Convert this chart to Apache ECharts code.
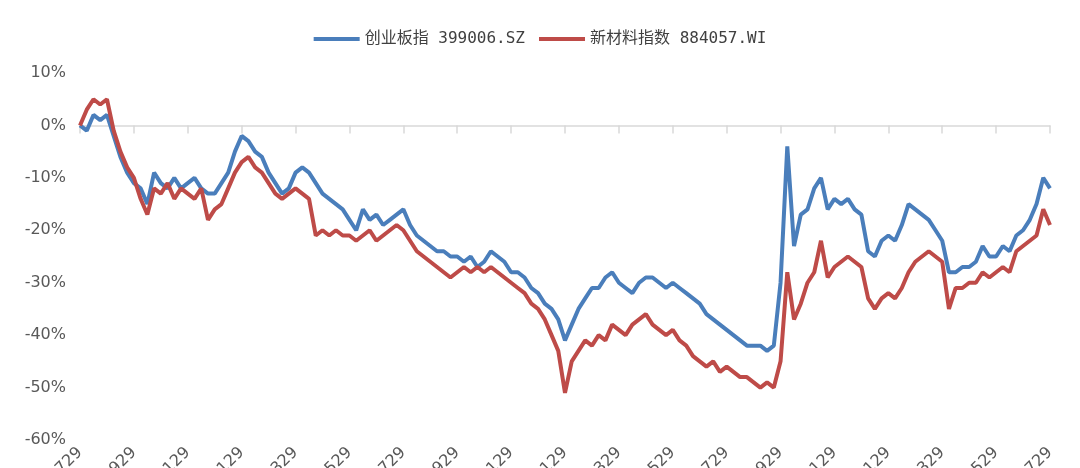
<!DOCTYPE html>
<html><head><meta charset="utf-8">
<script src="https://cdn.jsdelivr.net/npm/echarts@6/dist/echarts.min.js"></script>
<style>html,body{margin:0;padding:0;background:#fff}#c{width:1080px;height:468px}</style>
</head><body><div id="c"></div>
<script>
const seriesNames = ['创业板指 399006.SZ', '新材料指数 884057.WI'];
const dayMarks = ['29', '07', '14', '21'];
// categories: quarter-month steps from 220729 to 250729
const categories = [];
{
  let y = 22, m = 7;
  for (let i = 0; i < 145; i++) {
    const k = i % 4;
    if (k === 0) {
      categories.push(String(y).padStart(2,'0') + String(m).padStart(2,'0') + '29');
    } else {
      let mm = m + 1, yy = y; if (mm > 12) { mm = 1; yy++; }
      categories.push(String(yy).padStart(2,'0') + String(mm).padStart(2,'0') + dayMarks[k]);
      if (k === 3) { m = mm; y = yy; }
    }
  }
}
const chinextValues = [
0,-1,2,1,2,-2,-6,-9,-11,-12,
-15,-9,-11,-12,-10,-12,-11,-10,-12,-13,
-13,-11,-9,-5,-2,-3,-5,-6,-9,-11,
-13,-12,-9,-8,-9,-11,-13,-14,-15,-16,
-18,-20,-16,-18,-17,-19,-18,-17,-16,-19,
-21,-22,-23,-24,-24,-25,-25,-26,-25,-27,
-26,-24,-25,-26,-28,-28,-29,-31,-32,-34,
-35,-37,-41,-38,-35,-33,-31,-31,-29,-28,
-30,-31,-32,-30,-29,-29,-30,-31,-30,-31,
-32,-33,-34,-36,-37,-38,-39,-40,-41,-42,
-42,-42,-43,-42,-30,-4,-23,-17,-16,-12,
-10,-16,-14,-15,-14,-16,-17,-24,-25,-22,
-21,-22,-19,-15,-16,-17,-18,-20,-22,-28,
-28,-27,-27,-26,-23,-25,-25,-23,-24,-21,
-20,-18,-15,-10,-12];
const newMaterialValues = [
0,3,5,4,5,-1,-5,-8,-10,-14,
-17,-12,-13,-11,-14,-12,-13,-14,-12,-18,
-16,-15,-12,-9,-7,-6,-8,-9,-11,-13,
-14,-13,-12,-13,-14,-21,-20,-21,-20,-21,
-21,-22,-21,-20,-22,-21,-20,-19,-20,-22,
-24,-25,-26,-27,-28,-29,-28,-27,-28,-27,
-28,-27,-28,-29,-30,-31,-32,-34,-35,-37,
-40,-43,-51,-45,-43,-41,-42,-40,-41,-38,
-39,-40,-38,-37,-36,-38,-39,-40,-39,-41,
-42,-44,-45,-46,-45,-47,-46,-47,-48,-48,
-49,-50,-49,-50,-45,-28,-37,-34,-30,-28,
-22,-29,-27,-26,-25,-26,-27,-33,-35,-33,
-32,-33,-31,-28,-26,-25,-24,-25,-26,-35,
-31,-31,-30,-30,-28,-29,-28,-27,-28,-24,
-23,-22,-21,-16,-19];
const yTicks = {min: -60, max: 10, interval: 10};

const chart = echarts.init(document.getElementById('c'));
const font = "'DejaVu Sans Mono','Noto Sans CJK SC',monospace";
chart.setOption({
  animation: false,
  legend: {
    top: 26, left: 'center', itemWidth: 46, itemHeight: 4, itemGap: 14,
    textStyle: {fontSize: 16, color: '#404040', fontFamily: font},
    data: seriesNames.map(n => ({name: n, icon: 'rect'}))
  },
  grid: {left: 80, right: 30, top: 73, bottom: 28, containLabel: false, outerBoundsMode: 'none'},
  xAxis: {
    type: 'category', boundaryGap: false, data: categories,
    axisLine: {onZero: true, lineStyle: {color: '#d9d9d9', width: 1.5}},
    axisTick: {interval: 7, length: 8, lineStyle: {color: '#d9d9d9', width: 1.5}},
    axisLabel: {interval: 7, rotate: 45, fontSize: 16, color: '#595959', fontFamily: 'DejaVu Sans', margin: 10}
  },
  yAxis: {
    type: 'value', min: yTicks.min, max: yTicks.max, interval: yTicks.interval,
    axisLine: {show: false}, axisTick: {show: false}, splitLine: {show: false},
    axisLabel: {formatter: v => v + '%', fontSize: 16, color: '#595959', fontFamily: 'DejaVu Sans', margin: 14}
  },
  series: [
    {name: seriesNames[0], type: 'line', data: chinextValues, showSymbol: false, lineStyle: {width: 4, color: '#4a7ebb'}, itemStyle: {color: '#4a7ebb'}, z: 2},
    {name: seriesNames[1], type: 'line', data: newMaterialValues, showSymbol: false, lineStyle: {width: 4, color: '#be4b48'}, itemStyle: {color: '#be4b48'}, z: 3}
  ]
});
</script></body></html>
